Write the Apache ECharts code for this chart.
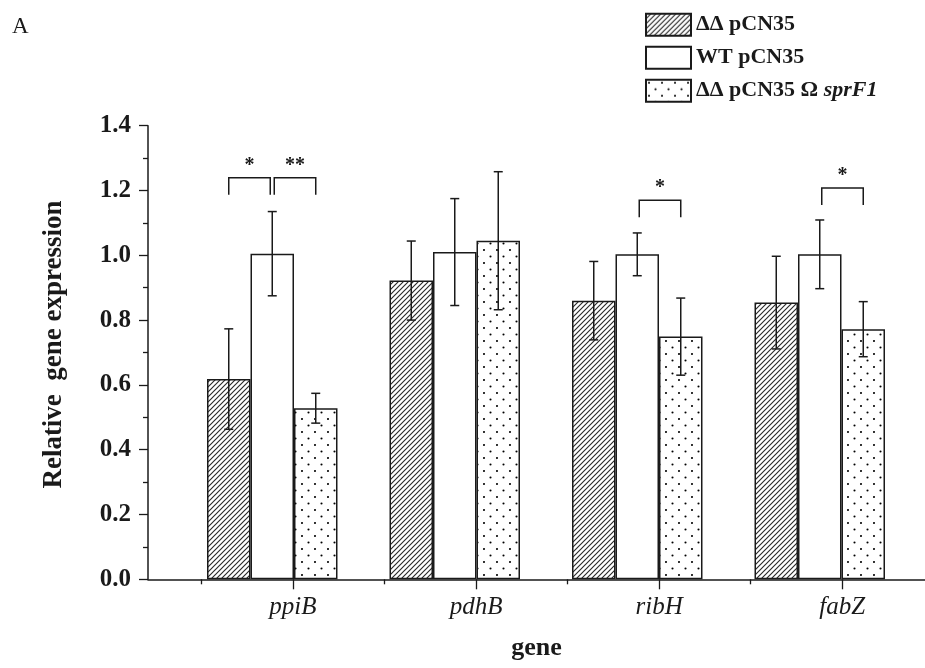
<!DOCTYPE html>
<html><head><meta charset="utf-8">
<script src="https://cdn.jsdelivr.net/npm/echarts@6/dist/echarts.min.js"></script>
<style>html,body{margin:0;padding:0;background:#fff}#c{width:925px;height:668px}</style>
</head><body><div id="c"></div>
<script>
// ---------- data ----------
const genes = ['ppiB', 'pdhB', 'ribH', 'fabZ'];
const seriesNames = ['ΔΔ pCN35', 'WT pCN35', 'ΔΔ pCN35 Ω sprF1'];
const meanDD   = [0.618, 0.922, 0.860, 0.854];
const errDD    = [0.155, 0.122, 0.121, 0.143];
const meanWT   = [1.005, 1.010, 1.003, 1.003];
const errWT    = [0.130, 0.165, 0.066, 0.106];
const meanComp = [0.528, 1.045, 0.749, 0.772];
const errComp  = [0.046, 0.213, 0.119, 0.085];
// significance brackets: gene index, from series, to series, height, label
const sigGene  = [0, 0, 2, 3];
const sigFrom  = [0, 1, 1, 1];
const sigTo    = [1, 2, 2, 2];
const sigY     = [1.239, 1.239, 1.170, 1.208];
const sigLabel = ['*', '**', '*', '*'];
const majorTickVals = [1, 2, 3, 4];
const minorTickVals = [0.5, 1.5, 2.5, 3.5];

// ---------- styling helpers ----------
const FONT = 'Liberation Serif';
const INK = '#1a1a1a';
const GAP = 0.285;

function hatchPattern() {
  const c = document.createElement('canvas');
  c.width = 5; c.height = 5;
  const g = c.getContext('2d');
  g.fillStyle = '#fff'; g.fillRect(0, 0, 5, 5);
  g.strokeStyle = '#2a2a2a'; g.lineWidth = 1.15;
  g.beginPath();
  g.moveTo(-1, 6); g.lineTo(6, -1);
  g.moveTo(-1, 1); g.lineTo(1, -1);
  g.moveTo(4, 6); g.lineTo(6, 4);
  g.stroke();
  return { image: c, repeat: 'repeat' };
}
function dotPattern() {
  const c = document.createElement('canvas');
  c.width = 13; c.height = 13;
  const g = c.getContext('2d');
  g.fillStyle = '#fff'; g.fillRect(0, 0, 13, 13);
  g.fillStyle = '#000';
  g.beginPath(); g.arc(3, 3, 1.05, 0, Math.PI * 2); g.fill();
  g.beginPath(); g.arc(9.5, 9.5, 1.05, 0, Math.PI * 2); g.fill();
  return { image: c, repeat: 'repeat' };
}

const fills = [hatchPattern(), '#ffffff', dotPattern()];
const means = [meanDD, meanWT, meanComp];
const errs = [errDD, errWT, errComp];

const barSeries = seriesNames.map((n, s) => ({
  name: n, type: 'bar', xAxisIndex: 2, yAxisIndex: 1,
  data: means[s], barGap: '0%', barCategoryGap: (GAP * 100) + '%',
  itemStyle: { color: fills[s], borderColor: INK, borderWidth: 1.5 },
  z: 2
}));

const errData = [];
for (let s = 0; s < 3; s++) for (let i = 0; i < genes.length; i++) errData.push([i, means[s][i], errs[s][i], s]);

function errItem(params, api) {
  const cat = api.value(0), m = api.value(1), e = api.value(2), s = api.value(3);
  const c = api.coord([cat, m]);
  const bw = api.size([1, 0])[0] * (1 - GAP) / 3;
  const x = c[0] + (s - 1) * bw;
  const yt = api.coord([cat, m + e])[1], yb = api.coord([cat, m - e])[1];
  const h = 4.5, st = { stroke: INK, lineWidth: 1.5 };
  return { type: 'group', children: [
    { type: 'line', shape: { x1: x, y1: yt, x2: x, y2: yb }, style: st },
    { type: 'line', shape: { x1: x - h, y1: yt, x2: x + h, y2: yt }, style: st },
    { type: 'line', shape: { x1: x - h, y1: yb, x2: x + h, y2: yb }, style: st }
  ]};
}

const sigData = sigGene.map((g, k) => [g, sigY[k], sigFrom[k], sigTo[k], k]);
function sigItem(params, api) {
  const cat = api.value(0), yv = api.value(1), a = api.value(2), b = api.value(3), k = api.value(4);
  const c = api.coord([cat, yv]);
  const bw = api.size([1, 0])[0] * (1 - GAP) / 3;
  let x1 = c[0] + (a - 1) * bw, x2 = c[0] + (b - 1) * bw;
  if (a === 1) x1 += 2; if (b === 1) x2 -= 2;
  const y = c[1], leg = 17;
  return { type: 'group', children: [
    { type: 'polyline', shape: { points: [[x1, y + leg], [x1, y], [x2, y], [x2, y + leg]] },
      style: { stroke: INK, lineWidth: 1.5, fill: null } },
    { type: 'text', x: (x1 + x2) / 2, y: y - 2,
      style: { text: sigLabel[k], align: 'center', verticalAlign: 'bottom',
        fontFamily: FONT, fontWeight: 'bold', fontSize: 20, fill: INK } }
  ]};
}

const chart = echarts.init(document.getElementById('c'), null, { renderer: 'canvas' });
chart.setOption({
  animation: false,
  backgroundColor: '#fff',
  title: { text: 'A', left: 12, top: 15, padding: 0,
    textStyle: { fontFamily: FONT, fontWeight: 'normal', fontSize: 23, color: INK } },
  legend: {
    data: seriesNames, orient: 'vertical', left: 645, top: 12.7, padding: 0,
    icon: 'rect', itemWidth: 45, itemHeight: 22, itemGap: 9,
    textStyle: { fontFamily: FONT, fontWeight: 'bold', fontSize: 22, color: INK,
      rich: { i: { fontFamily: FONT, fontWeight: 'bold', fontStyle: 'italic', fontSize: 22, color: INK } } },
    formatter: n => n === seriesNames[2] ? 'ΔΔ pCN35 Ω {i|sprF1}' : n
  },
  grid: [
    { left: 148, right: 0, top: 125.7, bottom: 88.7 },
    { left: 181, right: 14, top: 125.7, bottom: 88.7 }
  ],
  xAxis: [
    { type: 'value', gridIndex: 0, position: 'bottom', min: 0.2083, max: 4.452,
      name: 'gene', nameLocation: 'middle', nameGap: 56,
      nameTextStyle: { fontFamily: FONT, fontWeight: 'bold', fontSize: 26, color: INK },
      axisLine: { lineStyle: { color: INK, width: 1.5 } },
      axisTick: { customValues: majorTickVals, length: 10, lineStyle: { color: INK, width: 1.3 } },
      axisLabel: { customValues: majorTickVals, formatter: v => genes[Math.round(v) - 1],
        margin: 16, fontFamily: FONT, fontStyle: 'italic', fontSize: 25, color: INK },
      splitLine: { show: false } },
    { type: 'value', gridIndex: 0, position: 'bottom', min: 0.2083, max: 4.452,
      axisLine: { show: false },
      axisTick: { customValues: minorTickVals, length: 5, lineStyle: { color: INK, width: 1.3 } },
      axisLabel: { show: false }, splitLine: { show: false } },
    { type: 'category', gridIndex: 1, data: genes, show: false }
  ],
  yAxis: [
    { type: 'value', gridIndex: 0, min: 0, max: 1.4, interval: 0.2,
      name: 'Relative  gene expression', nameLocation: 'middle', nameRotate: 90, nameGap: 80,
      nameTextStyle: { fontFamily: FONT, fontWeight: 'bold', fontSize: 27, color: INK, padding: [0, 0, 0, 16] },
      axisLine: { show: true, lineStyle: { color: INK, width: 1.5 } },
      axisTick: { show: true, length: 9, lineStyle: { color: INK, width: 1.3 } },
      minorTick: { show: true, splitNumber: 2, length: 5, lineStyle: { color: INK, width: 1.3 } },
      axisLabel: { margin: 17, formatter: v => v.toFixed(1), fontFamily: FONT, fontWeight: 'bold', fontSize: 25, color: INK },
      splitLine: { show: false } },
    { type: 'value', gridIndex: 1, min: 0, max: 1.4, show: false, splitLine: { show: false } }
  ],
  series: barSeries.concat([
    { type: 'custom', name: 'err', xAxisIndex: 2, yAxisIndex: 1, data: errData,
      renderItem: errItem, encode: { x: 0, y: 1 }, z: 5, silent: true },
    { type: 'custom', name: 'sig', xAxisIndex: 2, yAxisIndex: 1, data: sigData,
      renderItem: sigItem, encode: { x: 0, y: 1 }, z: 5, silent: true, clip: false }
  ])
});
</script></body></html>
